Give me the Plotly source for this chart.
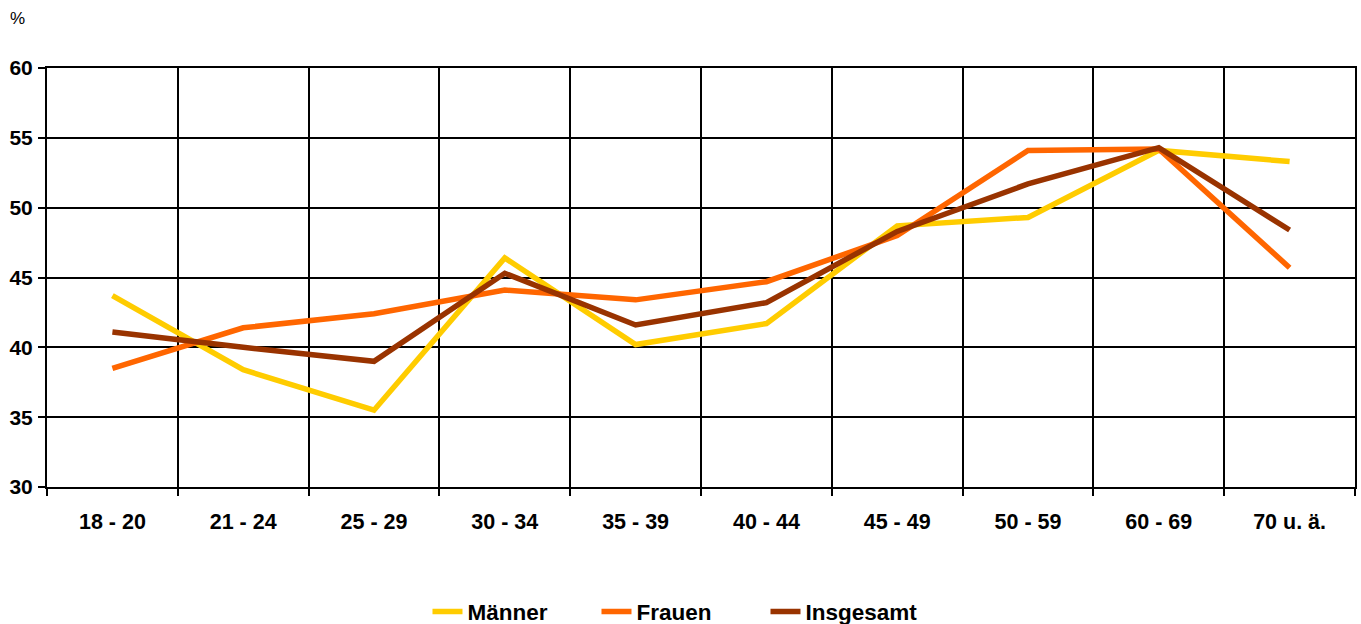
import plotly.graph_objects as go

categories = ["18 - 20", "21 - 24", "25 - 29", "30 - 34", "35 - 39", "40 - 44", "45 - 49", "50 - 59", "60 - 69", "70 u. ä."]
maenner = [43.7, 38.4, 35.5, 46.4, 40.2, 41.7, 48.7, 49.3, 54.1, 53.3]
frauen = [38.5, 41.4, 42.4, 44.1, 43.4, 44.7, 48.0, 54.1, 54.2, 45.7]
insgesamt = [41.1, 40.0, 39.0, 45.3, 41.6, 43.2, 48.3, 51.7, 54.3, 48.4]

series = [("Männer", maenner, "#FFCC00"), ("Frauen", frauen, "#FF6600"), ("Insgesamt", insgesamt, "#993300")]

FAM = "Liberation Sans, Arial, sans-serif"

fig = go.Figure()
for name, vals, col in series:
    fig.add_trace(go.Scatter(x=categories, y=vals, name=name, mode="lines",
                             line=dict(color=col, width=5.5)))

fig.update_layout(
    width=1361, height=624,
    margin=dict(l=47, r=6, t=68, b=137, autoexpand=False),
    plot_bgcolor="white", paper_bgcolor="white",
    font=dict(family=FAM, size=16, color="black"),
    showlegend=True,
    legend=dict(orientation="h", x=0.4847, xanchor="center", y=-0.298, yanchor="middle",
                font=dict(family=FAM, size=22.5, color="black", weight="bold"),
                entrywidth=124, entrywidthmode="pixels", tracegroupgap=0,
                bgcolor="rgba(0,0,0,0)"),
    xaxis=dict(type="category", tickson="boundaries", showgrid=True, gridcolor="black", gridwidth=2,
               showline=True, linecolor="black", linewidth=2, mirror=True,
               ticks="outside", ticklen=7, tickcolor="black", tickwidth=2,
               range=[-0.5, 9.5], automargin=False, ticklabelstandoff=14,
               tickfont=dict(family=FAM, size=21.5, color="black", weight="bold")),
    yaxis=dict(range=[30, 60], dtick=5, tick0=30, showgrid=True, gridcolor="black", gridwidth=2,
               showline=True, linecolor="black", linewidth=2, mirror=True,
               ticks="outside", ticklen=7, tickcolor="black", tickwidth=2, zeroline=False,
               automargin=False, ticklabelstandoff=1,
               tickfont=dict(family=FAM, size=21, color="black", weight="bold")),
    annotations=[dict(text="%", xref="paper", yref="paper", x=-0.0295, y=1.119, xanchor="left", yanchor="middle",
                      showarrow=False, font=dict(family=FAM, size=17, color="black"))],
)
fig.write_html("out.html", config={"displayModeBar": False},
               post_script="document.body.style.margin='0';document.body.style.padding='0';")
